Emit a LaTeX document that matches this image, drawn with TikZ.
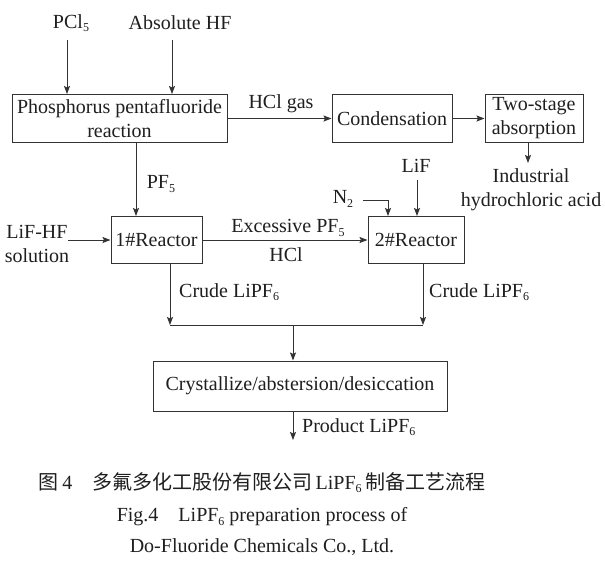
\documentclass[tikz,border=0pt]{standalone}
\usepackage{fontspec}
\setmainfont{Liberation Serif}
\newfontfamily\cjk{Noto Sans CJK SC}
\usetikzlibrary{arrows.meta}
\newcommand\sbs[1]{\raisebox{-0.35ex}{\scalebox{0.6}{#1}}}
\begin{document}
\begin{tikzpicture}[x=1pt,y=-1pt,
  every node/.style={font=\fontsize{20}{24}\selectfont, text=black!88, inner sep=0pt, align=center},
  box/.style={draw=black!80, line width=1pt},
  arr/.style={draw=black!80, line width=1pt, -{Stealth[length=8pt,width=6pt,inset=1.5pt]}},
  ln/.style={draw=black!80, line width=1pt}]
\useasboundingbox[fill=white] (0,0) rectangle (605,563);
% boxes
\node[box, minimum width=215pt, minimum height=48pt] (ppf) at (119.5,118.5) {Phosphorus pentafluoride\\reaction};
\node[box, minimum width=120pt, minimum height=48pt] (cond) at (392,118.5) {Condensation};
\node[box, minimum width=98pt, minimum height=48pt] (two) at (534,118.5) {Two-stage\\absorption};
\node[box, minimum width=91pt, minimum height=47pt] (r1) at (156.5,240) {1\#Reactor};
\node[box, minimum width=96pt, minimum height=47pt] (r2) at (416,240) {2\#Reactor};
\node[box, minimum width=294pt, minimum height=50pt] (cry) at (300,386) {Crystallize/abstersion/desiccation};
% labels
\node (lpcl) at (71,23) {PCl\sbs{5}};
\node (lahf) at (180,23) {Absolute HF};
\node (lhcl) at (281,104) {HCl gas};
\node (lind) at (531,190) {Industrial\\hydrochloric acid};
\node (lpf) at (161,184) {PF\sbs{5}};
\node (llif) at (416,166) {LiF};
\node (ln2) at (343,199) {N\sbs{2}};
\node (llhf) at (37,244) {LiF-HF\\solution};
\node (lexc) at (288,228) {Excessive PF\sbs{5}};
\node (lhcl2) at (286,255) {HCl};
\node[anchor=west] (lcr1) at (179,292) {Crude LiPF\sbs{6}};
\node[anchor=west] (lcr2) at (429,292) {Crude LiPF\sbs{6}};
\node[anchor=west] (lprod) at (302,427) {Product LiPF\sbs{6}};
% coordinates
\coordinate (pcl) at (67,40);
\coordinate (ahf) at (172,40);
\coordinate (indtop) at (528,163);
\coordinate (pf) at (136,0);
\coordinate (lhf) at (68,240);
\coordinate (n2s) at (363,200);
\coordinate (n2d) at (388,0);
\coordinate (lif) at (417,180);
\coordinate (c1) at (170,325);
\coordinate (c2) at (423,325);
\coordinate (mid) at (293,325);
\coordinate (prod) at (293,440);
% connectors
\draw[arr] (pcl) -- (pcl |- ppf.north);
\draw[arr] (ahf) -- (ahf |- ppf.north);
\draw[arr] (ppf.east) -- (cond.west);
\draw[arr] (cond.east) -- (two.west);
\draw[arr] (indtop |- two.south) -- (indtop);
\draw[arr] (pf |- ppf.south) -- (pf |- r1.north);
\draw[arr] (lhf) -- (r1.west);
\draw[arr] (r1.east) -- (r2.west);
\draw[arr] (n2s) -| (n2d |- r2.north);
\draw[arr] (lif) -- (lif |- r2.north);
\draw[arr] (c1 |- r1.south) -- (c1);
\draw[arr] (c2 |- r2.south) -- (c2);
\draw[ln] (c1) -- (c2);
\draw[arr] (mid) -- (mid |- cry.north);
\draw[arr] (prod |- cry.south) -- (prod);
% caption
\node (cap1) at (262,483) {{\cjk 图}\,4\hspace{1em}{\cjk 多氟多化工股份有限公司}\,LiPF\sbs{6}\,{\cjk 制备工艺流程}};
\node (cap2) at (262,517) {Fig.4\hspace{1em}LiPF\sbs{6} preparation process of};
\node (cap3) at (262,547) {Do-Fluoride Chemicals Co., Ltd.};
\end{tikzpicture}
\end{document}
